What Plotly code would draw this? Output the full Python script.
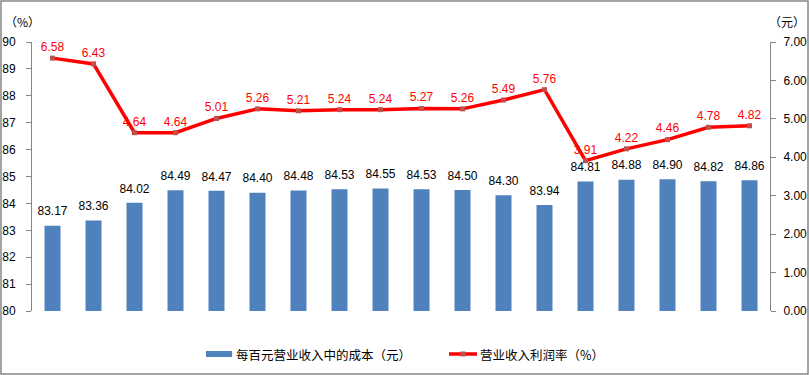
import plotly.graph_objects as go

categories = [str(i) for i in range(1, 19)]
cost_per_100 = [83.17, 83.36, 84.02, 84.49, 84.47, 84.40, 84.48, 84.53, 84.55,
                84.53, 84.50, 84.30, 83.94, 84.81, 84.88, 84.90, 84.82, 84.86]
profit_rate = [6.58, 6.43, 4.64, 4.64, 5.01, 5.26, 5.21, 5.24, 5.24,
               5.27, 5.26, 5.49, 5.76, 3.91, 4.22, 4.46, 4.78, 4.82]
left_ticks = list(range(80, 91))
right_ticks = [0, 1, 2, 3, 4, 5, 6, 7]
bar_name = "每百元营业收入中的成本（元）"
line_name = "营业收入利润率（%）"

W, H = 809, 375
ml, mr, mt, mb = 32, 39, 42, 64
pw = W - ml - mr
ph = H - mt - mb
num_font = "Liberation Sans, Arial, sans-serif"
cjk_font = "Noto Sans CJK SC, sans-serif"
bar_color = "#4F81BD"
line_color = "#FF0000"


def px_x(p):
    return (p - ml) / pw


def px_y(p):
    return (H - mb - p) / ph


fig = go.Figure()
fig.add_trace(go.Bar(
    x=categories, y=cost_per_100, name=bar_name,
    marker=dict(color=bar_color, line=dict(width=0)),
    yaxis="y", hoverinfo="x+y",
))
fig.add_trace(go.Scatter(
    x=categories, y=cost_per_100, mode="markers+text",
    marker=dict(size=10, color="rgba(0,0,0,0)"),
    text=[f"{v:.2f}" for v in cost_per_100], textposition="top center",
    textfont=dict(family=num_font, size=12, color="#000000"),
    cliponaxis=False, yaxis="y", showlegend=False, hoverinfo="skip",
))
fig.add_trace(go.Scatter(
    x=categories, y=profit_rate, name=line_name,
    mode="lines+markers+text",
    line=dict(color=line_color, width=3.5),
    marker=dict(symbol="square", size=5, color="#C0504D"),
    text=[f"{v:.2f}" for v in profit_rate], textposition="top center",
    textfont=dict(family=num_font, size=12, color=line_color),
    cliponaxis=False, yaxis="y2",
))

axis_common = dict(showgrid=False, zeroline=False, showline=True,
                   linecolor="#868686", linewidth=1, ticks="outside",
                   ticklen=5, tickcolor="#868686", automargin=False,
                   tickfont=dict(family=num_font, size=12, color="#000000"))

fig.update_layout(
    width=W, height=H,
    margin=dict(l=ml, r=mr, t=mt, b=mb, autoexpand=False),
    paper_bgcolor="white", plot_bgcolor="white",
    bargap=0.61,
    showlegend=False,
    xaxis=dict(type="category", range=[-0.5, len(categories) - 0.5],
               showticklabels=False, showline=False, showgrid=False,
               zeroline=False, ticks="", automargin=False),
    yaxis=dict(range=[80, 90], tickvals=left_ticks, ticklabelstandoff=8,
               **axis_common),
    yaxis2=dict(range=[0, 7], tickvals=right_ticks, tickformat=".2f",
                overlaying="y", side="right", ticklabelstandoff=5,
                **axis_common),
    annotations=[
        dict(text="（%）", xref="paper", yref="paper", x=px_x(22), y=px_y(22),
             xanchor="center", yanchor="middle", showarrow=False,
             font=dict(family=cjk_font, size=12, color="#000000")),
        dict(text="（元）", xref="paper", yref="paper", x=px_x(787), y=px_y(22),
             xanchor="center", yanchor="middle", showarrow=False,
             font=dict(family=cjk_font, size=12, color="#000000")),
        dict(text=bar_name, xref="paper", yref="paper", x=px_x(234), y=px_y(354),
             xanchor="left", yanchor="middle", showarrow=False,
             font=dict(family=cjk_font, size=12.5, color="#000000")),
        dict(text=line_name, xref="paper", yref="paper", x=px_x(478), y=px_y(354),
             xanchor="left", yanchor="middle", showarrow=False,
             font=dict(family=cjk_font, size=12.5, color="#000000")),
    ],
    shapes=[
        dict(type="rect", xref="paper", yref="paper",
             x0=px_x(1), x1=px_x(808), y0=px_y(374), y1=px_y(1),
             line=dict(color="#868686", width=1.5), layer="below"),
        dict(type="rect", xref="paper", yref="paper",
             x0=px_x(206), x1=px_x(232), y0=px_y(357), y1=px_y(351),
             fillcolor=bar_color, line=dict(width=0)),
        dict(type="line", xref="paper", yref="paper",
             x0=px_x(449), x1=px_x(477), y0=px_y(354), y1=px_y(354),
             line=dict(color=line_color, width=3.5)),
        dict(type="rect", xref="paper", yref="paper",
             x0=px_x(460.5), x1=px_x(465.5), y0=px_y(356.5), y1=px_y(351.5),
             fillcolor="#C0504D", line=dict(width=0)),
    ],
)

fig.write_html(
    "out.html",
    config={"displayModeBar": False},
    post_script="document.body.style.margin='0px';document.body.style.overflow='hidden';",
)
